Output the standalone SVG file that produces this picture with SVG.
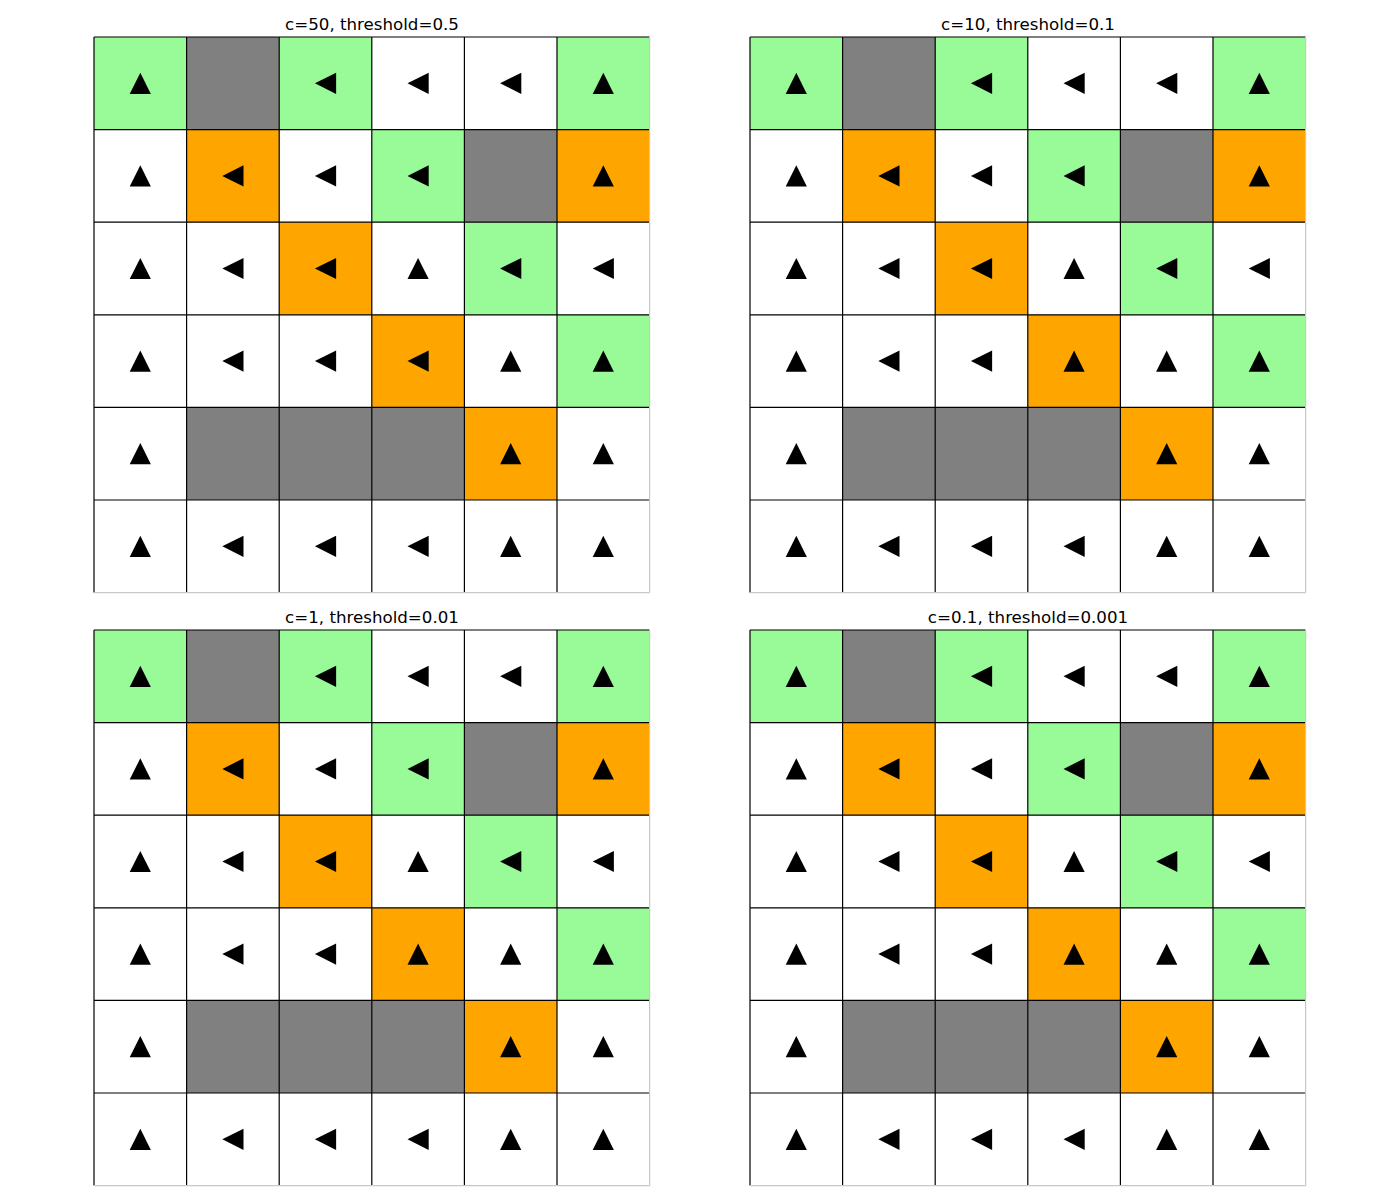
<svg xmlns="http://www.w3.org/2000/svg" xmlns:xlink="http://www.w3.org/1999/xlink" width="1400" height="1200" viewBox="0 0 1400 1200">
<style>
.t{font-family:"DejaVu Sans","Liberation Sans",sans-serif;font-size:16.67px;fill:#000;text-anchor:middle}
.g{fill:#98FB98}.o{fill:#FFA500}.w{fill:#808080}
.ln{stroke:#000;stroke-width:1.2;fill:none}
.edge{stroke:#c8c8c8;stroke-width:1.2;fill:none}
.m{fill:#000}
</style>
<defs>
<path id="up" class="m" d="M0,-10.6 L-10.6,10.6 L10.6,10.6 Z"/>
<path id="lf" class="m" d="M-10.6,0 L10.6,-10.6 L10.6,10.6 Z"/>
<g id="cells">
<rect class="g" x="0" y="0" width="92.6" height="92.6"/>
<rect class="w" x="92.6" y="0" width="92.6" height="92.6"/>
<rect class="g" x="185.2" y="0" width="92.6" height="92.6"/>
<rect class="g" x="463" y="0" width="92.6" height="92.6"/>
<rect class="o" x="92.6" y="92.6" width="92.6" height="92.6"/>
<rect class="g" x="277.8" y="92.6" width="92.6" height="92.6"/>
<rect class="w" x="370.4" y="92.6" width="92.6" height="92.6"/>
<rect class="o" x="463" y="92.6" width="92.6" height="92.6"/>
<rect class="o" x="185.2" y="185.2" width="92.6" height="92.6"/>
<rect class="g" x="370.4" y="185.2" width="92.6" height="92.6"/>
<rect class="o" x="277.8" y="277.8" width="92.6" height="92.6"/>
<rect class="g" x="463" y="277.8" width="92.6" height="92.6"/>
<rect class="w" x="92.6" y="370.4" width="277.8" height="92.6"/>
<rect class="o" x="370.4" y="370.4" width="92.6" height="92.6"/>
</g>
<g id="lines">
<path class="ln" d="M0,0 V555.6 M92.6,0 V555.6 M185.2,0 V555.6 M277.8,0 V555.6 M370.4,0 V555.6 M463,0 V555.6 M0,0 H555.6 M0,92.6 H555.6 M0,185.2 H555.6 M0,277.8 H555.6 M0,370.4 H555.6 M0,463 H555.6"/>
<path class="edge" d="M555.6,0 V555.6 M0,555.6 H555.6"/>
</g>
<g id="arrows">
<use xlink:href="#up" x="46.3" y="46.3"/>
<use xlink:href="#lf" x="231.5" y="46.3"/>
<use xlink:href="#lf" x="324.1" y="46.3"/>
<use xlink:href="#lf" x="416.7" y="46.3"/>
<use xlink:href="#up" x="509.3" y="46.3"/>
<use xlink:href="#up" x="46.3" y="138.9"/>
<use xlink:href="#lf" x="138.9" y="138.9"/>
<use xlink:href="#lf" x="231.5" y="138.9"/>
<use xlink:href="#lf" x="324.1" y="138.9"/>
<use xlink:href="#up" x="509.3" y="138.9"/>
<use xlink:href="#up" x="46.3" y="231.5"/>
<use xlink:href="#lf" x="138.9" y="231.5"/>
<use xlink:href="#lf" x="231.5" y="231.5"/>
<use xlink:href="#up" x="324.1" y="231.5"/>
<use xlink:href="#lf" x="416.7" y="231.5"/>
<use xlink:href="#lf" x="509.3" y="231.5"/>
<use xlink:href="#up" x="46.3" y="324.1"/>
<use xlink:href="#lf" x="138.9" y="324.1"/>
<use xlink:href="#lf" x="231.5" y="324.1"/>
<use xlink:href="#up" x="416.7" y="324.1"/>
<use xlink:href="#up" x="509.3" y="324.1"/>
<use xlink:href="#up" x="46.3" y="416.7"/>
<use xlink:href="#up" x="416.7" y="416.7"/>
<use xlink:href="#up" x="509.3" y="416.7"/>
<use xlink:href="#up" x="46.3" y="509.3"/>
<use xlink:href="#lf" x="138.9" y="509.3"/>
<use xlink:href="#lf" x="231.5" y="509.3"/>
<use xlink:href="#lf" x="324.1" y="509.3"/>
<use xlink:href="#up" x="416.7" y="509.3"/>
<use xlink:href="#up" x="509.3" y="509.3"/>
</g>
</defs>
<rect width="1400" height="1200" fill="#fff"/>
<g id="panel-c50" transform="translate(94,37)">
<use xlink:href="#cells"/><use xlink:href="#lines"/><use xlink:href="#arrows"/>
<use xlink:href="#lf" x="324.1" y="324.1"/>
</g>
<text class="t" x="372" y="30">c=50, threshold=0.5</text>
<g id="panel-c10" transform="translate(750,37)">
<use xlink:href="#cells"/><use xlink:href="#lines"/><use xlink:href="#arrows"/>
<use xlink:href="#up" x="324.1" y="324.1"/>
</g>
<text class="t" x="1028" y="30">c=10, threshold=0.1</text>
<g id="panel-c1" transform="translate(94,630)">
<use xlink:href="#cells"/><use xlink:href="#lines"/><use xlink:href="#arrows"/>
<use xlink:href="#up" x="324.1" y="324.1"/>
</g>
<text class="t" x="372" y="622.5">c=1, threshold=0.01</text>
<g id="panel-c01" transform="translate(750,630)">
<use xlink:href="#cells"/><use xlink:href="#lines"/><use xlink:href="#arrows"/>
<use xlink:href="#up" x="324.1" y="324.1"/>
</g>
<text class="t" x="1028" y="622.5">c=0.1, threshold=0.001</text>
</svg>
